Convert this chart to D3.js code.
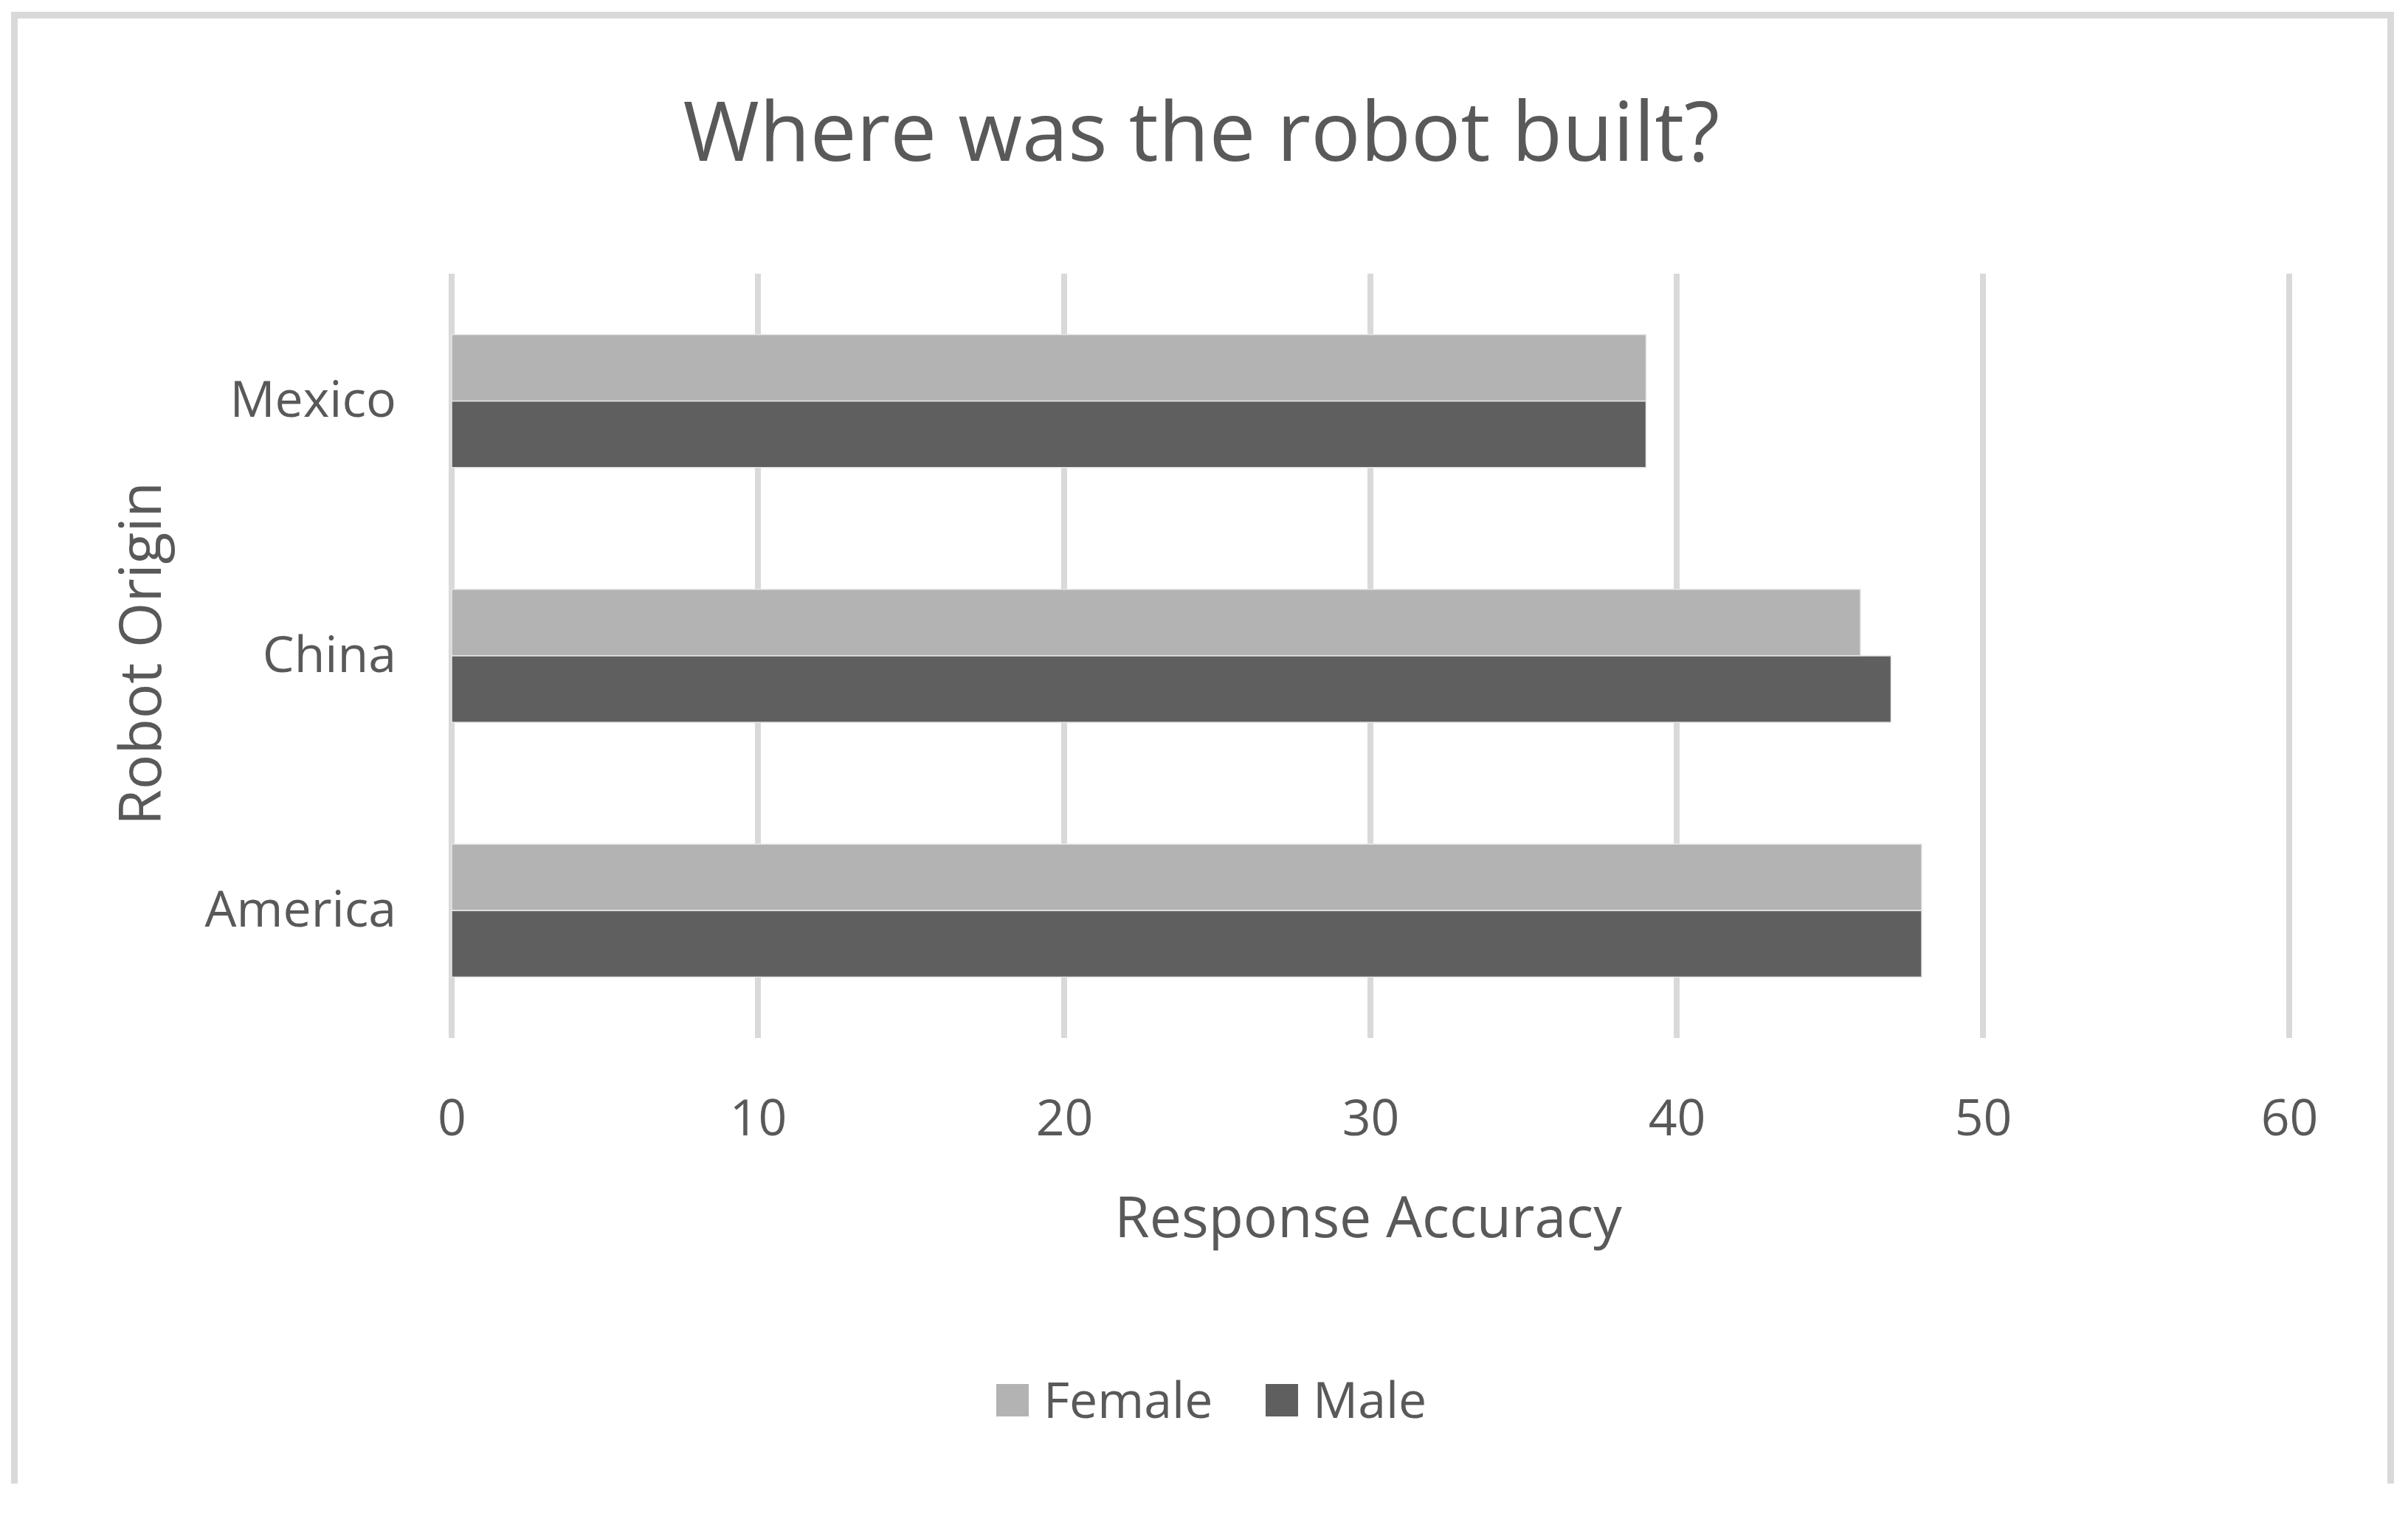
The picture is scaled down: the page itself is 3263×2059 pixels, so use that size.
<!DOCTYPE html>
<html>
<head>
<meta charset="utf-8">
<script src="https://cdn.jsdelivr.net/npm/d3@7"></script>
<style>
  html, body { margin: 0; padding: 0; background: #fff; }
  text { font-family: "Open Sans", "Noto Sans", sans-serif; fill: #595959; }
</style>
</head>
<body>
<div id="chart"></div>
<script>
const width = 3263;
const height = 2059;

// data
const origins = ["Mexico", "China", "America"];
const series = ["Female", "Male"];
const femaleValues = [39, 46, 48];
const maleValues = [39, 47, 48];
const xTicks = [0, 10, 20, 30, 40, 50, 60];

const colors = { Female: "#b3b3b3", Male: "#5f5f5f" };

const rows = origins.map((o, i) => ({
  origin: o,
  values: [
    { key: "Female", value: femaleValues[i] },
    { key: "Male", value: maleValues[i] }
  ]
}));

const svg = d3.select("#chart")
  .append("svg")
  .attr("width", width)
  .attr("height", height);

// chart frame (open at the bottom, as in the picture)
svg.append("path")
  .attr("d", "M19.5,2011 V20.5 H3239.5 V2011")
  .attr("fill", "none")
  .attr("stroke", "#d9d9d9")
  .attr("stroke-width", 9);

const x = d3.scaleLinear()
  .domain([0, 60])
  .range([612, 3102]);

const y = d3.scaleBand()
  .domain(origins)
  .range([371, 1407])
  .paddingInner(0.478)
  .paddingOuter(0.239);

const ySub = d3.scaleBand()
  .domain(series)
  .range([0, y.bandwidth()]);

// gridlines
svg.append("g")
  .selectAll("line")
  .data(xTicks)
  .join("line")
  .attr("x1", d => x(d))
  .attr("x2", d => x(d))
  .attr("y1", y.range()[0])
  .attr("y2", y.range()[1])
  .attr("stroke", "#d9d9d9")
  .attr("stroke-width", 8);

// bars
const groups = svg.append("g")
  .selectAll("g")
  .data(rows)
  .join("g")
  .attr("transform", d => `translate(0,${y(d.origin)})`);

groups.selectAll("rect")
  .data(d => d.values)
  .join("rect")
  .attr("x", x(0))
  .attr("y", d => ySub(d.key))
  .attr("width", d => x(d.value) - x(0))
  .attr("height", ySub.bandwidth())
  .attr("fill", d => colors[d.key])
  .attr("stroke", "#e6e6e6")
  .attr("stroke-width", 1.5);

// x axis labels
const xAxis = svg.append("g")
  .attr("transform", "translate(0,1407)")
  .call(d3.axisBottom(x).tickValues(xTicks).tickSize(0).tickPadding(84));
xAxis.select(".domain").remove();
xAxis.selectAll("text")
  .attr("font-size", 68)
  .attr("fill", "#595959")
  .attr("font-family", "Open Sans");

// y axis labels
const yAxis = svg.append("g")
  .attr("transform", "translate(537,0)")
  .call(d3.axisLeft(y).tickSize(0).tickPadding(0));
yAxis.select(".domain").remove();
yAxis.selectAll("text")
  .attr("font-size", 68)
  .attr("fill", "#595959")
  .attr("font-family", "Open Sans");

// title
svg.append("text")
  .attr("x", 1628)
  .attr("y", 218)
  .attr("text-anchor", "middle")
  .attr("font-size", 112)
  .text("Where was the robot built?");

// axis titles
svg.append("text")
  .attr("x", 1854)
  .attr("y", 1677)
  .attr("text-anchor", "middle")
  .attr("font-size", 77)
  .text("Response Accuracy");

svg.append("text")
  .attr("transform", "translate(218,886) rotate(-90)")
  .attr("text-anchor", "middle")
  .attr("font-size", 79)
  .text("Robot Origin");

// legend
const legend = svg.append("g")
  .attr("transform", "translate(0,1876)");

const legendX = { Female: 1350, Male: 1715 };

series.forEach(s => {
  legend.append("rect")
    .attr("x", legendX[s])
    .attr("y", 0)
    .attr("width", 44)
    .attr("height", 44)
    .attr("fill", colors[s]);
  legend.append("text")
    .attr("x", legendX[s] + 64)
    .attr("y", 46)
    .attr("font-size", 68)
    .text(s);
});
</script>
</body>
</html>
